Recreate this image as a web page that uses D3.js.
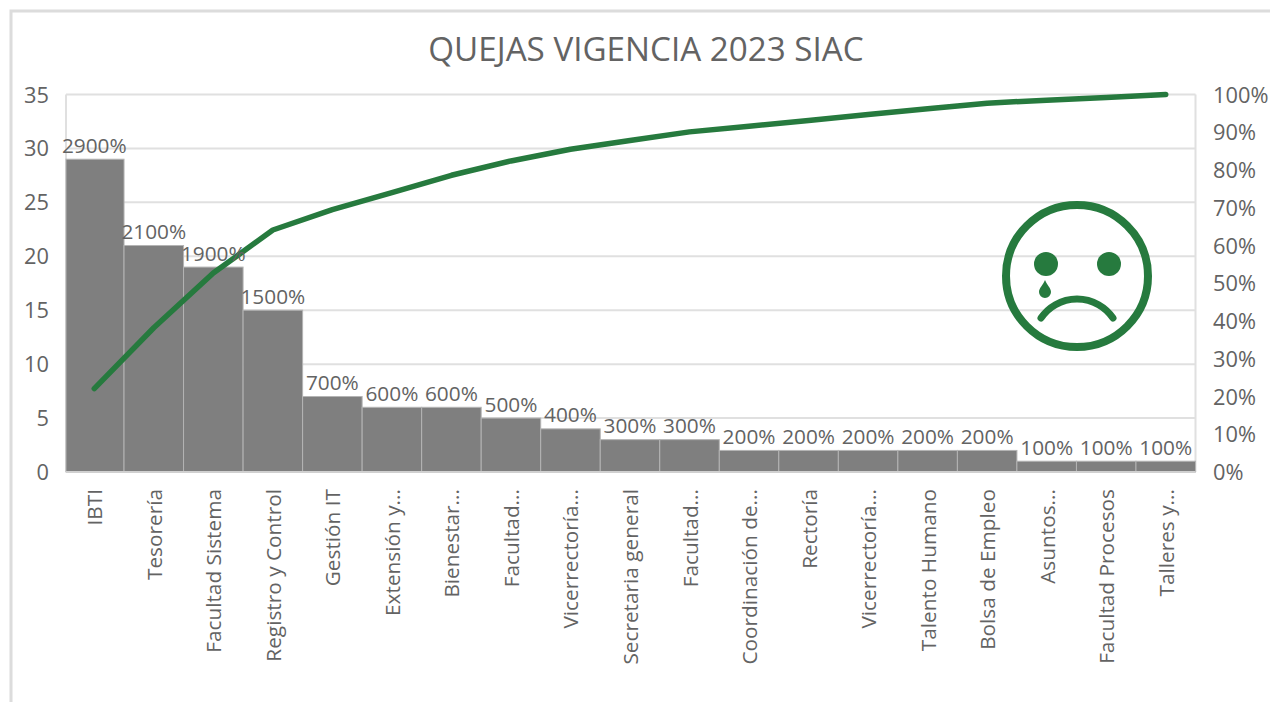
<!DOCTYPE html>
<html><head><meta charset="utf-8">
<script src="https://cdn.jsdelivr.net/npm/d3@7"></script>
<style>html,body{margin:0;padding:0;background:#fff;overflow:hidden}svg{display:block}text{font-family:"Open Sans",sans-serif;fill:#636363}</style>
</head><body><svg id="c" width="1270" height="702"></svg>
<script>
const title = "QUEJAS VIGENCIA 2023 SIAC";
const categories = ["IBTI","Tesorería","Facultad Sistema","Registro y Control","Gestión IT","Extensión y...","Bienestar...","Facultad...","Vicerrectoría...","Secretaria general","Facultad...","Coordinación de...","Rectoría","Vicerrectoría...","Talento Humano","Bolsa de Empleo","Asuntos...","Facultad Procesos","Talleres y..."];
const complaints = [29,21,19,15,7,6,6,5,4,3,3,2,2,2,2,2,1,1,1];
const barLabels = ["2900%","2100%","1900%","1500%","700%","600%","600%","500%","400%","300%","300%","200%","200%","200%","200%","200%","100%","100%","100%"];
const cumulativePct = [22.1,38.2,52.7,64.1,69.5,74.0,78.6,82.4,85.5,87.8,90.1,91.6,93.1,94.7,96.2,97.7,98.5,99.2,100];
const leftTicks = [0,5,10,15,20,25,30,35];
const rightTicks = [0,10,20,30,40,50,60,70,80,90,100];

const svg = d3.select("#c");
const L=66,R=1195.5,T=94.5,B=472;
const x = d3.scaleBand().domain(d3.range(categories.length)).range([64.5,R]).padding(0);
const y = d3.scaleLinear().domain([0,35]).range([B,T]);
const y2 = d3.scaleLinear().domain([0,100]).range([B,T]);

// frame
svg.append("path").attr("d","M11,702V11H1270").attr("fill","none").attr("stroke","#dcdcdc").attr("stroke-width",3);

svg.append("text").attr("x",646).attr("y",61).attr("text-anchor","middle").attr("font-size",33.2).text(title);

// grid
svg.append("g").selectAll("line").data(leftTicks.slice(1)).join("line")
 .attr("x1",L).attr("x2",R).attr("y1",d=>y(d)).attr("y2",d=>y(d)).attr("stroke","#e0e0e0").attr("stroke-width",2);
svg.append("line").attr("x1",L).attr("x2",L).attr("y1",T).attr("y2",B).attr("stroke","#e0e0e0").attr("stroke-width",2);
svg.append("line").attr("x1",R).attr("x2",R).attr("y1",T).attr("y2",B).attr("stroke","#e0e0e0").attr("stroke-width",2);

// bars
svg.append("g").selectAll("rect").data(complaints).join("rect")
 .attr("x",(d,i)=>Math.max(x(i),L)).attr("width",(d,i)=>x(i)+x.bandwidth()-Math.max(x(i),L)).attr("y",d=>y(d)).attr("height",d=>B-y(d))
 .attr("fill","#7f7f7f").attr("stroke","#b4b4b4").attr("stroke-width",1);
svg.append("line").attr("x1",L).attr("x2",R).attr("y1",B).attr("y2",B).attr("stroke","#d0d0d0").attr("stroke-width",2);

// line
const line = d3.line().x((d,i)=>x(i)+x.bandwidth()/2).y(d=>y2(d));
svg.append("path").datum(cumulativePct).attr("d",line).attr("fill","none").attr("stroke","#267a3e").attr("stroke-width",5.5).attr("stroke-linecap","round").attr("stroke-linejoin","round");

// bar labels
svg.append("g").selectAll("text").data(barLabels).join("text")
 .attr("x",(d,i)=>x(i)+x.bandwidth()/2).attr("y",(d,i)=>y(complaints[i])-6.5).attr("text-anchor","middle").attr("font-size",20.8).text(d=>d);

// axes
svg.append("g").selectAll("text").data(leftTicks).join("text")
 .attr("x",49).attr("y",d=>y(d)+8).attr("text-anchor","end").attr("font-size",21.8).text(d=>d);
svg.append("g").selectAll("text").data(rightTicks).join("text")
 .attr("x",1213).attr("y",d=>y2(d)+8).attr("font-size",21.8).text(d=>d+"%");

// category labels
svg.append("g").selectAll("text").data(categories).join("text")
 .attr("transform",(d,i)=>`translate(${x(i)+x.bandwidth()/2+8},489) rotate(-90)`)
 .attr("text-anchor","end").attr("font-size",20.8).text(d=>d);

// sad face
const g = svg.append("g").attr("transform","translate(1077,276)").attr("fill","#267a3e");
g.append("circle").attr("r",71).attr("fill","none").attr("stroke","#267a3e").attr("stroke-width",8);
g.append("circle").attr("cx",-31).attr("cy",-12).attr("r",12);
g.append("circle").attr("cx",32).attr("cy",-12).attr("r",12);
g.append("path").attr("d","M-32,4 C-30,9 -26,12 -26,16 A6,6 0 0 1 -38,16 C-38,12 -34,9 -32,4Z");
g.append("path").attr("d","M-36,42 A43.6,43.6 0 0 1 36,42").attr("fill","none").attr("stroke","#267a3e").attr("stroke-width",7).attr("stroke-linecap","round");
</script></body></html>
